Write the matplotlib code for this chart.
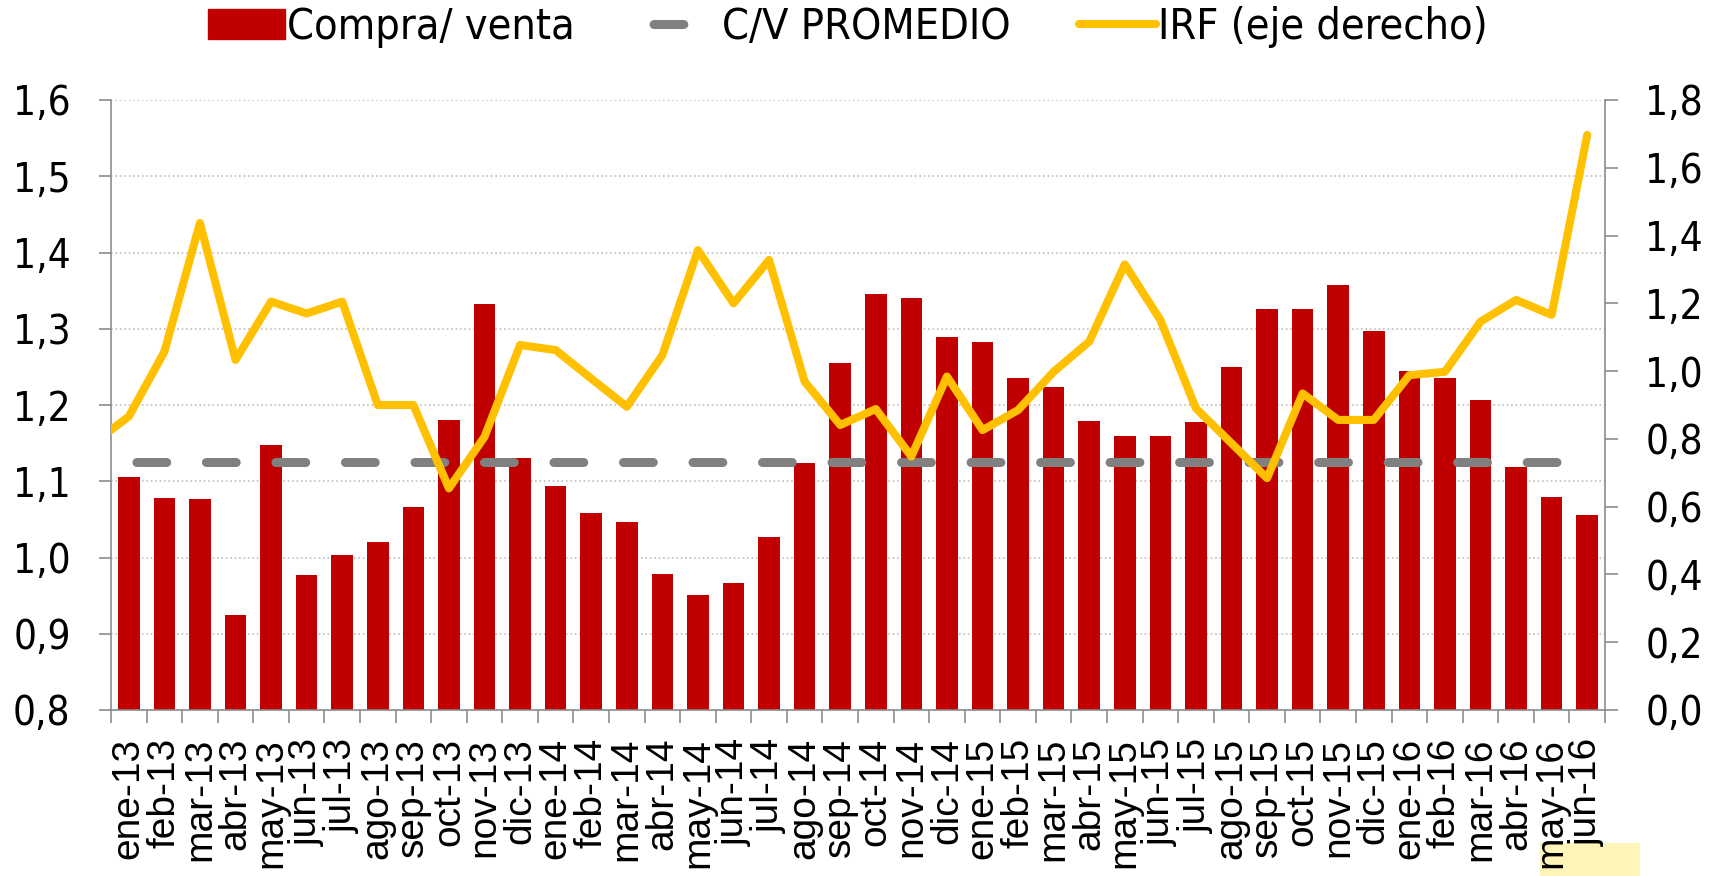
import matplotlib
matplotlib.use('Agg')
import matplotlib.pyplot as plt
from matplotlib.patches import Patch, Rectangle
from matplotlib.lines import Line2D
from matplotlib.font_manager import FontProperties
import numpy as np

months = ['ene-13', 'feb-13', 'mar-13', 'abr-13', 'may-13', 'jun-13', 'jul-13', 'ago-13',
          'sep-13', 'oct-13', 'nov-13', 'dic-13',
          'ene-14', 'feb-14', 'mar-14', 'abr-14', 'may-14', 'jun-14', 'jul-14', 'ago-14',
          'sep-14', 'oct-14', 'nov-14', 'dic-14',
          'ene-15', 'feb-15', 'mar-15', 'abr-15', 'may-15', 'jun-15', 'jul-15', 'ago-15',
          'sep-15', 'oct-15', 'nov-15', 'dic-15',
          'ene-16', 'feb-16', 'mar-16', 'abr-16', 'may-16', 'jun-16']

# compra/venta ratio (left axis)
cv = [1.106, 1.078, 1.077, 0.924, 1.147, 0.977, 1.003, 1.020, 1.066, 1.180, 1.333, 1.131,
      1.094, 1.059, 1.046, 0.979, 0.951, 0.967, 1.027, 1.124, 1.255, 1.345, 1.340, 1.289,
      1.282, 1.235, 1.223, 1.179, 1.160, 1.159, 1.178, 1.250, 1.326, 1.326, 1.358, 1.297,
      1.245, 1.236, 1.207, 1.119, 1.079, 1.056]
cv_avg = 1.125

# IRF (right axis), first value is dic-12 (only the edge is visible)
irf_prev = 0.787
irf = [0.866, 1.057, 1.437, 1.033, 1.205, 1.170, 1.205, 0.900, 0.900, 0.654, 0.806, 1.077,
       1.062, 0.978, 0.895, 1.047, 1.357, 1.200, 1.328, 0.969, 0.841, 0.888, 0.748, 0.984,
       0.826, 0.885, 0.998, 1.087, 1.315, 1.151, 0.890, 0.787, 0.684, 0.934, 0.856, 0.856,
       0.988, 0.998, 1.146, 1.210, 1.166, 1.697]

RED = '#C00000'
GREY = '#808080'
YELLOW = '#FFC000'
AXC = '#8C8C8C'
tickfont = FontProperties(family='DejaVu Sans', stretch='condensed', size=29)
legfont = FontProperties(family='DejaVu Sans', stretch='condensed', size=31)
xfont = FontProperties(family='Liberation Sans', size=28)

fig = plt.figure(figsize=(17.21, 8.76), dpi=100)
ax = fig.add_axes([111/1721, 1 - 710/876, (1605-111)/1721, (710-100)/876])

x = np.arange(len(months))
ax.bar(x, cv, 0.61, color=RED, zorder=2)
ax.plot(x, np.full(len(months), cv_avg), color=GREY, lw=6.5,
        linestyle=(6.88, (3.3, 4.4)), dash_capstyle='round', zorder=3)

ax.set_xlim(-0.5, len(months) - 0.5)
ax.set_ylim(0.8, 1.6)
ax.set_yticks(np.arange(0.8, 1.61, 0.1))
ax.set_yticklabels(['{:.1f}'.format(v).replace('.', ',') for v in np.arange(0.8, 1.61, 0.1)],
                   fontproperties=tickfont)
ax.yaxis.grid(True, linestyle=':', color='#BFBFBF', lw=1.2, zorder=0)
ax.set_axisbelow(True)

ax.set_xticks(x)
ax.set_xticklabels(months, rotation=90, fontproperties=xfont)
ax.set_xticks(np.arange(-0.5, len(months), 1), minor=True)
ax.tick_params(axis='x', which='major', length=0, pad=20)
ax.tick_params(axis='x', which='minor', length=9, color=AXC, width=1.2)
ax.tick_params(axis='y', length=9, color=AXC, width=1.2, pad=20)

for s in ['top', 'right']:
    ax.spines[s].set_visible(False)
ax.spines['left'].set_color(AXC)
ax.spines['bottom'].set_color(AXC)
ax.spines['left'].set_linewidth(1.2)
ax.spines['bottom'].set_linewidth(1.2)

ax2 = ax.twinx()
ax2.plot(np.arange(-1, len(months)), [irf_prev] + irf, color=YELLOW, lw=5.8,
         solid_joinstyle='round', solid_capstyle='round', zorder=4)
ax2.set_ylim(0, 1.8)
ax2.set_yticks(np.arange(0, 1.81, 0.2))
ax2.set_yticklabels(['{:.1f}'.format(v).replace('.', ',') for v in np.arange(0, 1.81, 0.2)],
                    fontproperties=tickfont)
ax2.tick_params(axis='y', length=9, color=AXC, width=1.2, pad=20)
for s in ['top', 'left', 'bottom']:
    ax2.spines[s].set_visible(False)
ax2.spines['right'].set_color(AXC)
ax2.spines['right'].set_linewidth(1.2)

# pale highlight behind the last labels
fig.patches.append(Rectangle((1540/1721, 0), 100/1721, 33/876, transform=fig.transFigure,
                             facecolor='#FFF5B8', edgecolor='none', zorder=-1))

handles = [Patch(facecolor=RED, edgecolor=RED),
           Line2D([0], [0], color=GREY, lw=6.5, linestyle=(6.53, (3.3, 4.4)), dash_capstyle='round'),
           Line2D([0], [0], color=YELLOW, lw=5.8, solid_capstyle='round')]
fig.legend(handles, ['Compra/ venta', 'C/V PROMEDIO', 'IRF (eje derecho)'],
           loc='center', bbox_to_anchor=(0.4927, 1 - 27/876), ncol=3, frameon=False,
           prop=legfont, handlelength=1.79, handleheight=0.72,
           handletextpad=0.05, columnspacing=1.58, borderpad=0)

fig.savefig('out.png', dpi=100)
